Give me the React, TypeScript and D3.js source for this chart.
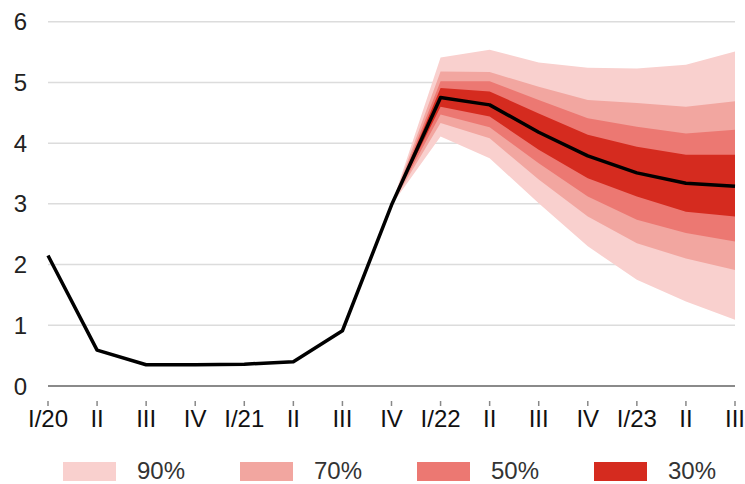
import { useEffect, useRef } from "react";
import * as d3 from "d3";

const quarters = ["I/20", "II", "III", "IV", "I/21", "II", "III", "IV", "I/22", "II", "III", "IV", "I/23", "II", "III"];
const central = [2.15, 0.59, 0.35, 0.35, 0.36, 0.4, 0.91, 2.98, 4.75, 4.63, 4.18, 3.79, 3.51, 3.34, 3.29];

// fan starts at the last observed quarter (IV/21)
const fanStart = 7;
const upper90 = [2.98, 5.41, 5.54, 5.33, 5.24, 5.23, 5.29, 5.51];
const upper70 = [2.98, 5.18, 5.17, 4.93, 4.71, 4.66, 4.6, 4.69];
const upper50 = [2.98, 5.02, 5.02, 4.71, 4.41, 4.27, 4.16, 4.22];
const upper30 = [2.98, 4.91, 4.85, 4.49, 4.14, 3.94, 3.81, 3.81];
const lower30 = [2.98, 4.6, 4.44, 3.89, 3.42, 3.12, 2.87, 2.79];
const lower50 = [2.98, 4.47, 4.26, 3.67, 3.12, 2.74, 2.52, 2.38];
const lower70 = [2.98, 4.33, 4.08, 3.4, 2.79, 2.35, 2.1, 1.91];
const lower90 = [2.98, 4.11, 3.75, 3.01, 2.3, 1.75, 1.39, 1.09];

const yTicks = [0, 1, 2, 3, 4, 5, 6];
const bandLabels = ["90%", "70%", "50%", "30%"];

const colors = {
  BAND_90: "rgb(249, 208, 206)",
  BAND_70: "rgb(242, 166, 160)",
  BAND_50: "rgb(236, 120, 114)",
  BAND_30: "rgb(213, 43, 31)",
  GRID: "#dcdcdc",
  AXIS: "#8a8a8a",
};

const width = 745;
const height = 484;
const font = "'Liberation Sans', Arial, sans-serif";

export default function App() {
  const ref = useRef<SVGSVGElement | null>(null);

  useEffect(() => {
    const svg = d3.select(ref.current);
    svg.selectAll("*").remove();

    const x = d3.scaleLinear().domain([0, quarters.length - 1]).range([48, 735]);
    const y = d3.scaleLinear().domain([0, 6]).range([386, 21.7]);

    // grid
    svg
      .append("g")
      .selectAll("line")
      .data(yTicks.filter((t) => t > 0))
      .enter()
      .append("line")
      .attr("x1", x(0))
      .attr("x2", x(quarters.length - 1))
      .attr("y1", (d) => y(d))
      .attr("y2", (d) => y(d))
      .style("stroke", colors.GRID)
      .style("stroke-width", 1.5);

    // y labels
    svg
      .append("g")
      .selectAll("text")
      .data(yTicks)
      .enter()
      .append("text")
      .attr("x", 27)
      .attr("y", (d) => y(d))
      .attr("dy", "0.36em")
      .attr("text-anchor", "end")
      .style("font-family", font)
      .style("font-size", "24px")
      .style("fill", "#222")
      .text((d) => d);

    // fan bands, widest first
    const bands = [
      { up: upper90, lo: lower90, color: colors.BAND_90 },
      { up: upper70, lo: lower70, color: colors.BAND_70 },
      { up: upper50, lo: lower50, color: colors.BAND_50 },
      { up: upper30, lo: lower30, color: colors.BAND_30 },
    ];
    const area = d3
      .area<number>()
      .x((_, i) => x(fanStart + i))
      .y0((d) => y(d));
    bands.forEach((b) => {
      svg
        .append("path")
        .attr("d", area.y1((_, i) => y(b.lo[i]))(b.up) as string)
        .style("fill", b.color);
    });

    // axis line at zero
    svg
      .append("line")
      .attr("x1", x(0))
      .attr("x2", x(quarters.length - 1))
      .attr("y1", y(0))
      .attr("y2", y(0))
      .style("stroke", colors.AXIS)
      .style("stroke-width", 2);

    // central line
    const line = d3
      .line<number>()
      .x((_, i) => x(i))
      .y((d) => y(d));
    svg
      .append("path")
      .attr("d", line(central) as string)
      .style("fill", "none")
      .style("stroke", "#000")
      .style("stroke-width", 3.5)
      .style("stroke-linejoin", "round");

    // x ticks + labels
    const xg = svg.append("g");
    xg.selectAll("line")
      .data(quarters)
      .enter()
      .append("line")
      .attr("x1", (_, i) => x(i))
      .attr("x2", (_, i) => x(i))
      .attr("y1", 401)
      .attr("y2", 406)
      .style("stroke", "#888")
      .style("stroke-width", 1.5);
    xg.selectAll("text")
      .data(quarters)
      .enter()
      .append("text")
      .attr("x", (_, i) => x(i))
      .attr("y", 427)
      .attr("text-anchor", "middle")
      .style("font-family", font)
      .style("font-size", "24px")
      .style("fill", "#111")
      .text((d) => d);

    // legend
    const legend = svg
      .append("g")
      .selectAll("g")
      .data(bandLabels)
      .enter()
      .append("g")
      .attr("transform", (_, i) => `translate(${63 + i * 177},462)`);
    legend
      .append("rect")
      .attr("width", 53)
      .attr("height", 19)
      .style("fill", (_, i) => bands[i].color);
    legend
      .append("text")
      .attr("x", 74)
      .attr("y", 17)
      .style("font-family", font)
      .style("font-size", "24px")
      .style("fill", "#333")
      .text((d) => d);
  }, []);

  return (
    <svg
      ref={ref}
      width={width}
      height={height}
      style={{ position: "absolute", left: 0, top: 0, background: "#fff" }}
    />
  );
}
